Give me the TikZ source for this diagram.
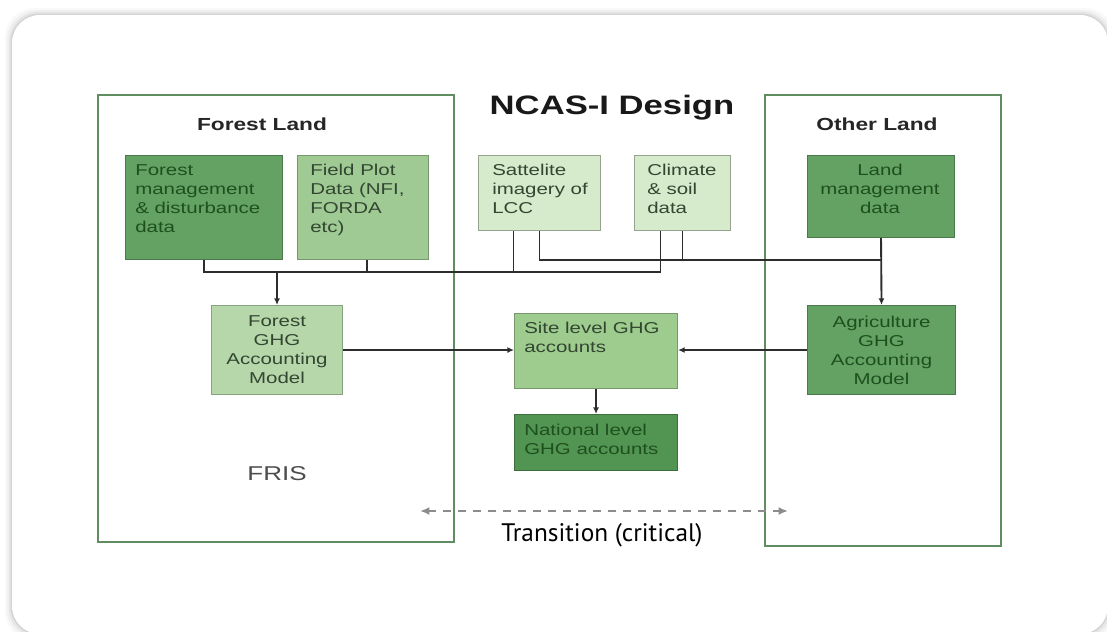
\documentclass[tikz,border=0pt]{standalone}
\usepackage{fontspec}
\usetikzlibrary{arrows.meta}
\newfontfamily\arialw[FakeStretch=1.3]{Liberation Sans}
\newfontfamily\transfont{PT Sans}
\definecolor{gdark}{RGB}{100,162,100}
\definecolor{gdeep}{RGB}{82,148,82}
\definecolor{gmid}{RGB}{160,202,148}
\definecolor{gsoft}{RGB}{182,215,170}
\definecolor{gsite}{RGB}{158,204,142}
\definecolor{gpale}{RGB}{214,235,204}
\definecolor{framegreen}{RGB}{96,142,96}
\definecolor{inkdark}{RGB}{30,80,30}
\definecolor{inklight}{RGB}{50,70,50}
\definecolor{wire}{RGB}{45,45,45}
\newdimen\pxu \pxu=0.75pt
\begin{document}
\begin{tikzpicture}[x=0.75pt,y=-0.75pt,
  boxfont/.style={font={\arialw\fontsize{11.8pt}{14.25pt}\selectfont}},
  panel/.style={draw=framegreen, line width=1.6pt, anchor=north west, inner sep=0pt},
  box/.style={anchor=north west, inner sep=0pt, line width=0.8pt, boxfont, align=center},
  darkbox/.style={box, fill=gdark, draw=gdark!75!black, text=inkdark},
  deepbox/.style={box, fill=gdeep, draw=gdeep!75!black, text=inkdark},
  midbox/.style={box, fill=gmid, draw=gmid!75!black, text=inklight},
  softbox/.style={box, fill=gsoft, draw=gsoft!75!black, text=inklight},
  sitebox/.style={box, fill=gsite, draw=gsite!75!black, text=inklight},
  palebox/.style={box, fill=gpale, draw=gpale!70!black, text=inklight},
  intext/.style={inner sep=0pt, boxfont, anchor=north west, align=left},
  wiring/.style={draw=wire, line width=1.4pt},
  arrowed/.style={wiring, -{Latex[length=5pt,width=4.5pt]}},
]
\useasboundingbox (0,0) rectangle (1107,632);

% card with soft shadow
\foreach \s/\o in {7/0.025,5/0.035,3/0.05,1.5/0.07}
  \fill[black, opacity=\o, rounded corners=22pt] ({12-\s},{15-\s}) rectangle ({1108+\s},{634+\s});
\fill[white, rounded corners=21pt] (12,15) rectangle (1108,634);

% land panels
\node[panel, minimum width=356\pxu, minimum height=447\pxu] (forest) at (97,94) {};
\node[panel, minimum width=236\pxu, minimum height=451\pxu] (other) at (764,94) {};

% headings
\node[font={\arialw\bfseries\fontsize{20pt}{24pt}\selectfont}, text=black!90] (title) at (612,108) {NCAS-I Design};
\node[font={\arialw\bfseries\fontsize{13.1pt}{16pt}\selectfont}, text=black!85] (forestlbl) at (262,124) {Forest Land};
\node[font={\arialw\bfseries\fontsize{13.1pt}{16pt}\selectfont}, text=black!85] (otherlbl) at (877,124) {Other Land};
\node[font={\arialw\fontsize{15pt}{18pt}\selectfont}, text=black!70] (fris) at (277,474) {FRIS};

% data boxes
\node[darkbox, minimum width=157\pxu, minimum height=104\pxu] (fm) at (125,155) {};
\node[midbox, minimum width=131\pxu, minimum height=104\pxu] (fp) at (297,155) {};
\node[palebox, minimum width=122\pxu, minimum height=75\pxu] (sat) at (478,155) {};
\node[palebox, minimum width=96\pxu, minimum height=75\pxu] (cl) at (634,155) {};
\node[darkbox, minimum width=147\pxu, minimum height=82\pxu] (lm) at (807,155) {};

\node[intext, text=inkdark] (fmt) at (135,164) {Forest\\management\\\& disturbance\\data};
\node[intext, text=inklight] (fpt) at (310,164) {Field Plot\\Data (NFI,\\FORDA\\etc)};
\node[intext, text=inklight] (satt) at (492,164) {Sattelite\\imagery of\\LCC};
\node[intext, text=inklight] (clt) at (647,164) {Climate\\\& soil\\data};
\node[intext, text=inkdark, anchor=north, align=center] (lmt) at (880,164) {Land\\management\\data};

% models and accounts
\node[softbox, minimum width=131\pxu, minimum height=89\pxu] (fg) at (211,305) {Forest\\GHG\\Accounting\\Model};
\node[sitebox, minimum width=163\pxu, minimum height=75\pxu] (sl) at (514,313) {};
\node[deepbox, minimum width=163\pxu, minimum height=56\pxu] (nl) at (514,414) {};
\node[darkbox, minimum width=148\pxu, minimum height=89\pxu] (ag) at (807,305) {Agriculture\\GHG\\Accounting\\Model};

\node[intext, text=inklight] (slt) at (524,322) {Site level GHG\\accounts};
\node[intext, text=inkdark] (nlt) at (524,424) {National level\\GHG accounts};

% buses
\coordinate (lowbus) at (0,272);
\coordinate (upbus) at (0,260);
\coordinate (satL) at ([xshift=-26\pxu]sat.south);
\coordinate (clL) at ([xshift=-22\pxu]cl.south);
\coordinate (fpS) at ([xshift=4\pxu]fp.south);

\draw[wiring] (fm.south) |- (clL |- lowbus) -- (clL);
\draw[wiring] (fpS) -- (fpS |- lowbus);
\draw[wiring] (satL) -- (satL |- lowbus);
\draw[arrowed] (fg.north |- lowbus) -- (fg.north);
\draw[wiring] (sat.south) |- (lm.south |- upbus);
\draw[wiring] (cl.south) -- (cl.south |- upbus);
\draw[arrowed] (lm.south) -- (ag.north);

\draw[arrowed] (fg.east) -- (fg.east -| sl.west);
\draw[arrowed] (ag.west) -- (ag.west -| sl.east);
\draw[arrowed] (sl.south) -- (nl.north);

% transition
\coordinate (tl) at (420,511);
\coordinate (tr) at (788,511);
\draw[black!45, line width=1.8pt, dash pattern=on 6pt off 5.25pt,
  {Latex[length=7pt,width=6pt]}-{Latex[length=7pt,width=6pt]}] (tl) -- (tr);
\node[fill=white, rounded corners=6pt, inner sep=2pt, font={\transfont\fontsize{19pt}{22pt}\selectfont}] (trans) at (602,535) {Transition (critical)};
\end{tikzpicture}
\end{document}
